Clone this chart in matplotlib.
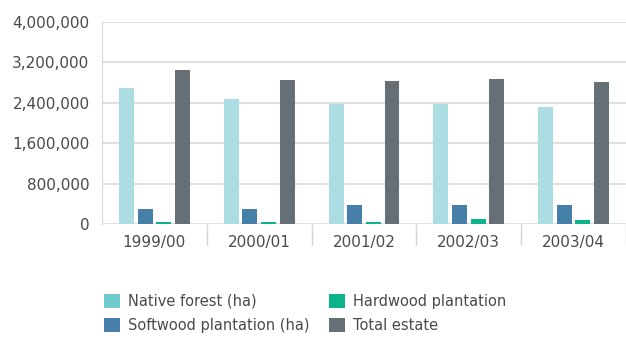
import numpy as np
import matplotlib.pyplot as plt
from matplotlib.ticker import FuncFormatter, FixedLocator

# ----------------------------------------------------------
# DATA (hectares)
# ----------------------------------------------------------
years = ["1999/00", "2000/01", "2001/02", "2002/03", "2003/04"]
native_forest = [2700000, 2480000, 2380000, 2380000, 2310000]
softwood = [300000, 300000, 380000, 380000, 380000]
hardwood = [45000, 45000, 45000, 100000, 90000]
total_estate = [3050000, 2850000, 2830000, 2880000, 2810000]

series = [
    ("Native forest (ha)", native_forest, "#acdde3"),
    ("Softwood plantation (ha)", softwood, "#4680a8"),
    ("Hardwood plantation", hardwood, "#0db38a"),
    ("Total estate", total_estate, "#666f75"),
]

# ----------------------------------------------------------
# PLOT
# ----------------------------------------------------------
fig = plt.figure(figsize=(6.26, 3.38), dpi=100)
ax = fig.add_axes([0.163, 0.337, 0.837, 0.598])

x = np.arange(len(years))
pitch = 0.178
width = 0.143
for i, (label, vals, color) in enumerate(series):
    ax.bar(x + (i - 1.5) * pitch, vals, width, color=color, label=label, zorder=3)

ax.set_xlim(-0.5, len(years) - 0.5)
ax.set_ylim(0, 4000000)
ax.set_yticks(np.arange(0, 4000001, 800000))
ax.yaxis.set_major_formatter(FuncFormatter(lambda v, p: f"{int(v):,}"))
ax.grid(axis="y", color="#d9d9d9", linewidth=1.2, zorder=0)

ax.set_xticks(x)
ax.set_xticklabels(years)
ax.xaxis.set_minor_locator(FixedLocator(np.arange(0.5, len(years), 1.0)))
ax.tick_params(axis="x", which="major", length=0, pad=8, labelsize=11, labelcolor="#4a4a4a")
ax.tick_params(axis="x", which="minor", length=15, width=1, color="#d5d5d5")
ax.tick_params(axis="y", length=0, pad=9, labelsize=11, labelcolor="#4a4a4a")

for s in ["top", "right", "bottom"]:
    ax.spines[s].set_visible(False)
ax.spines["left"].set_color("#d9d9d9")

handles, labels = ax.get_legend_handles_labels()
leg = fig.legend(handles, labels, ncol=2, loc="upper left",
                 bbox_to_anchor=(0.155, 0.152), bbox_transform=fig.transFigure,
                 frameon=False, fontsize=10.5, handlelength=1.1, handleheight=1.1,
                 handletextpad=0.55, columnspacing=1.3, labelspacing=0.65,
                 borderpad=0)
for t in leg.get_texts():
    t.set_color("#4a4a4a")
# legend swatch for native forest is a touch stronger than the bars
leg.legend_handles[0].set_facecolor("#70cbd0")

fig.savefig("out.png", dpi=100)
